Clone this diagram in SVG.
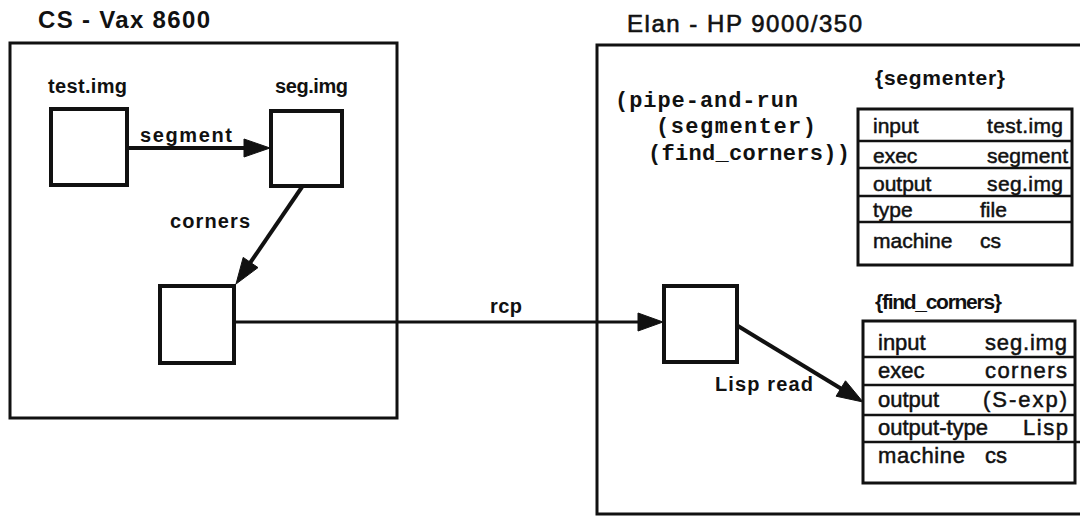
<svg xmlns="http://www.w3.org/2000/svg" width="1080" height="519" viewBox="0 0 1080 519">
<defs>
<style>
.frame{fill:none;stroke:#111;stroke-width:3}
.node{fill:#fff;stroke:#111;stroke-width:4}
.tbl{fill:#fff;stroke:#111;stroke-width:3}
.row{stroke:#111;stroke-width:2.5}
.edge{stroke:#111;stroke-width:4;fill:none}
.thin{stroke:#111;stroke-width:3;fill:none}
.head{fill:#111;stroke:#111;stroke-width:1;stroke-linejoin:round}
.title{font-family:"Liberation Sans",Arial,sans-serif;font-weight:bold;font-size:24px;fill:#111}
.lbl{font-family:"Liberation Sans",Arial,sans-serif;font-weight:bold;font-size:20px;fill:#111}
.cell{font-family:"Liberation Sans",Arial,sans-serif;font-size:21px;fill:#111;stroke:#111;stroke-width:0.5}
.mono{font-family:"Liberation Mono","Courier New",monospace;font-weight:bold;font-size:22px;fill:#111}
</style>
</defs>
<rect width="1080" height="519" fill="#fff"/>

<g id="cs-machine">
<text class="title" x="38" y="28" textLength="172">CS - Vax 8600</text>
<rect class="frame" x="10" y="43" width="387" height="375"/>
</g>

<g id="elan-machine">
<text class="title" x="627" y="32" textLength="235" style="font-weight:normal;stroke:#111;stroke-width:0.6">Elan - HP 9000/350</text>
<path class="frame" d="M1082,45 L597,45 L597,514 L1082,514"/>
<text class="mono" x="615" y="107" textLength="183">(pipe-and-run</text>
<text class="mono" x="656" y="133" textLength="160">(segmenter)</text>
<text class="mono" x="648" y="160" textLength="202">(find_corners))</text>
</g>

<g id="test-img">
<text class="lbl" x="48" y="93" textLength="79">test.img</text>
<rect class="node" x="51" y="109" width="76" height="76"/>
</g>

<g id="seg-img">
<text class="lbl" x="275" y="93" textLength="73">seg.img</text>
<rect class="node" x="271" y="111" width="71" height="75"/>
</g>

<g id="corners-out">
<rect class="node" x="160" y="286" width="74" height="77"/>
</g>

<g id="elan-node">
<rect class="node" x="664" y="286" width="73" height="76"/>
</g>

<g id="segmenter">
<text class="lbl" x="875" y="85" textLength="130" style="font-size:21px">{segmenter}</text>
<rect class="tbl" x="858" y="109" width="214" height="156"/>
<line class="row" x1="858" y1="141" x2="1072" y2="141"/>
<line class="row" x1="858" y1="168" x2="1072" y2="168"/>
<line class="row" x1="858" y1="196" x2="1072" y2="196"/>
<line class="row" x1="858" y1="222" x2="1072" y2="222"/>
<text class="cell" x="873" y="133">input</text><text class="cell" x="987" y="133" textLength="76">test.img</text>
<text class="cell" x="873" y="163">exec</text><text class="cell" x="987" y="163" textLength="81">segment</text>
<text class="cell" x="873" y="191">output</text><text class="cell" x="987" y="191" textLength="76">seg.img</text>
<text class="cell" x="873" y="217">type</text><text class="cell" x="980" y="217">file</text>
<text class="cell" x="873" y="248">machine</text><text class="cell" x="980" y="248">cs</text>
</g>

<g id="find-corners">
<text class="lbl" x="875" y="309" textLength="127" style="font-size:21px">{find_corners}</text>
<rect class="tbl" x="863" y="321" width="212" height="162"/>
<line class="row" x1="863" y1="357" x2="1075" y2="357"/>
<line class="row" x1="863" y1="385" x2="1075" y2="385"/>
<line class="row" x1="863" y1="415" x2="1075" y2="415"/>
<line class="row" x1="863" y1="442" x2="1080" y2="442"/>
<text class="cell" x="878" y="350" style="font-size:22px">input</text><text class="cell" x="985" y="350" textLength="82" style="font-size:22px">seg.img</text>
<text class="cell" x="878" y="378" style="font-size:22px">exec</text><text class="cell" x="985" y="378" textLength="82" style="font-size:22px">corners</text>
<text class="cell" x="878" y="407" style="font-size:22px">output</text><text class="cell" x="983" y="407" textLength="84" style="font-size:22px">(S-exp)</text>
<text class="cell" x="878" y="435" textLength="110" style="font-size:22px">output-type</text><text class="cell" x="1023" y="435" textLength="45" style="font-size:22px">Lisp</text>
<text class="cell" x="878" y="463" textLength="87" style="font-size:22px">machine</text><text class="cell" x="985" y="463" style="font-size:22px">cs</text>
</g>

<g id="connectors">
<line class="edge" x1="127" y1="148" x2="248" y2="148"/>
<polygon class="head" points="270,148 244,139 244,157"/>
<text class="lbl" x="140" y="142" textLength="92">segment</text>
<line class="edge" x1="302" y1="187" x2="248" y2="266"/>
<polygon class="head" points="236,284 258,267.6 243.2,257.4"/>
<text class="lbl" x="170" y="228" textLength="80">corners</text>
<line class="thin" x1="234" y1="322" x2="642" y2="322"/>
<polygon class="head" points="663,322 638,313 638,331"/>
<text class="lbl" x="490" y="313" textLength="32">rcp</text>
<line class="edge" x1="738" y1="326" x2="845" y2="391"/>
<polygon class="head" points="863,402 836.1,396.2 845.5,380.8"/>
<text class="lbl" x="715" y="391" textLength="98">Lisp read</text>
</g>
</svg>
